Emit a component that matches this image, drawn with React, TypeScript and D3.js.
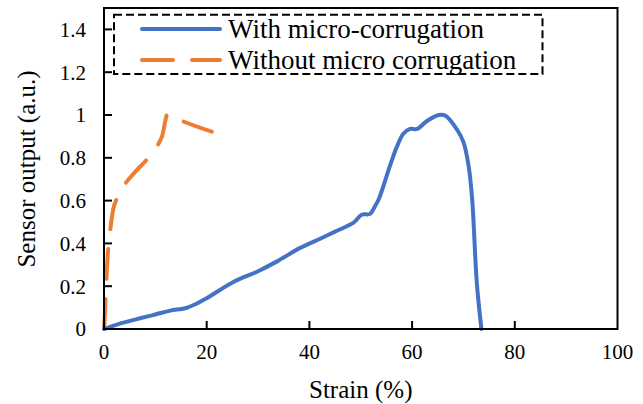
import * as d3 from "d3";

const withStrain = [0, 2.8, 7, 10, 12.9, 15.8, 18, 20, 25.2, 30, 33.7, 38.2, 42.1, 45, 48.6, 50.2, 51.8, 52.8, 53.5, 55.7, 57, 58.3, 59.6, 61, 62.9, 65.2, 66.5, 68.8, 70, 71, 71.7, 72.6, 73.5];
const withOutput = [0, 0.023, 0.05, 0.068, 0.086, 0.097, 0.118, 0.144, 0.22, 0.27, 0.316, 0.379, 0.422, 0.455, 0.497, 0.534, 0.538, 0.575, 0.606, 0.763, 0.85, 0.912, 0.935, 0.935, 0.972, 1.0, 0.997, 0.93, 0.873, 0.763, 0.606, 0.216, 0];

const withoutStrain = [0, 0.2, 0.35, 0.5, 0.8, 1.2, 1.8, 2.5, 3.3, 4.3, 6.3, 8.4, 9.5, 10.6, 11.3, 12.4, 15.1, 21.3];
const withoutOutput = [0, 0.08, 0.17, 0.25, 0.37, 0.46, 0.56, 0.61, 0.65, 0.685, 0.74, 0.794, 0.83, 0.865, 0.9, 1.005, 0.974, 0.92];

const xTickValues = [0, 20, 40, 60, 80, 100];
const yTickValues = [0, 0.2, 0.4, 0.6, 0.8, 1, 1.2, 1.4];
const yTickLabels = ["0", "0.2", "0.4", "0.6", "0.8", "1", "1.2", "1.4"];

const seriesNames = ["With micro-corrugation", "Without micro corrugation"];

export default function App() {
  const width = 643;
  const height = 404;
  const marginLeft = 104;
  const marginTop = 8;
  const marginRight = 25.5;
  const marginBottom = 75;
  const font = { fontFamily: '"Liberation Serif"' };

  const blue = "#4472C4";
  const orange = "#ED7D31";

  const xScale = d3.scaleLinear().domain([0, 100]).range([marginLeft, width - marginRight]);
  const yScale = d3.scaleLinear().domain([0, 1.5]).range([height - marginBottom, marginTop]);

  const smoothLine = d3
    .line<[number, number]>()
    .x((d) => xScale(d[0]))
    .y((d) => yScale(d[1]))
    .curve(d3.curveCatmullRom.alpha(0.5));

  const monoLine = d3
    .line<[number, number]>()
    .x((d) => xScale(d[0]))
    .y((d) => yScale(d[1]))
    .curve(d3.curveMonotoneX);

  const withData: [number, number][] = withStrain.map((s, i) => [s, withOutput[i]]);
  const withoutData: [number, number][] = withoutStrain.map((s, i) => [s, withoutOutput[i]]);

  const x0 = xScale(0);
  const x1 = xScale(100);
  const y0 = yScale(0);
  const y1 = yScale(1.5);

  return (
    <svg width={width} height={height} style={{ position: "absolute", left: 0, top: 0 }}>
      <rect width={width} height={height} fill="white" />

      {/* Series */}
      <path d={monoLine(withoutData) || ""} fill="none" stroke={orange} strokeWidth={4} strokeDasharray="30 20" strokeLinecap="round" />
      <path d={smoothLine(withData) || ""} fill="none" stroke={blue} strokeWidth={4} strokeLinejoin="round" strokeLinecap="round" />

      {/* Frame */}
      <rect x={x0} y={y1} width={x1 - x0} height={y0 - y1} fill="none" stroke="black" strokeWidth={2} />

      {/* X ticks */}
      {xTickValues.map((t) => (
        <g key={t} transform={`translate(${xScale(t)},${y0})`}>
          {t > 0 && t < 100 && <line y2={-8} stroke="black" strokeWidth={2} />}
          <text y={30} textAnchor="middle" fontSize={21} style={font}>
            {t}
          </text>
        </g>
      ))}

      {/* Y ticks */}
      {yTickValues.map((t, i) => (
        <g key={t} transform={`translate(${x0},${yScale(t)})`}>
          {t > 0 && <line x2={8} stroke="black" strokeWidth={2} />}
          <text x={-18} dy="0.35em" textAnchor="end" fontSize={21} style={font}>
            {yTickLabels[i]}
          </text>
        </g>
      ))}

      {/* Axis titles */}
      <text x={(x0 + x1) / 2} y={398} textAnchor="middle" fontSize={25} style={font}>
        Strain (%)
      </text>
      <text transform={`translate(35,169) rotate(-90)`} textAnchor="middle" fontSize={25} style={font}>
        Sensor output (a.u.)
      </text>

      {/* Legend */}
      <g>
        <rect x={114} y={14.7} width={428.5} height={59.3} fill="white" stroke="black" strokeWidth={2} strokeDasharray="8 4" />
        <line x1={142} x2={220} y1={29} y2={29} stroke={blue} strokeWidth={4} strokeLinecap="round" />
        <line x1={142} x2={220} y1={60} y2={60} stroke={orange} strokeWidth={4} strokeLinecap="round" strokeDasharray="31 19" />
        <text x={228} y={37.5} fontSize={27} style={font}>
          {seriesNames[0]}
        </text>
        <text x={228} y={68.5} fontSize={27} style={font}>
          {seriesNames[1]}
        </text>
      </g>
    </svg>
  );
}
